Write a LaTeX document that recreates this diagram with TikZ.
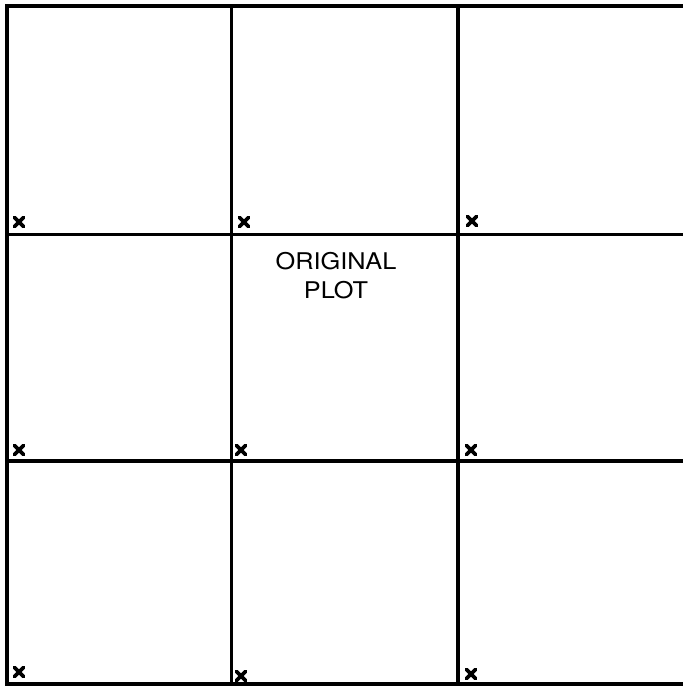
\documentclass[tikz,border=0pt]{standalone}
\usepackage{fontspec}
\setmainfont{TeX Gyre Heros}
\begin{document}
\begin{tikzpicture}[x=1pt,y=-1pt,
  gridline/.style={line width=3.2pt,line cap=rect},
  xmark/.style={line width=3.6pt,line cap=round},
  lbl/.style={font=\fontsize{23}{29}\selectfont,align=center,inner sep=0pt,xscale=1.1}]
\useasboundingbox (0,0) rectangle (682,687);
% grid corners
\coordinate (TL) at (7,6);
\coordinate (TR) at (682,6);
\coordinate (BL) at (7,684);
\coordinate (BR) at (682,684);
\draw[gridline] (TR) -- (TL) -- (BL) -- (BR);
\draw[gridline] (231.5,6) -- (231.5,684);
\draw[gridline] (458,6) -- (458,684);
\draw[gridline] (7,234.5) -- (682,234.5);
\draw[gridline] (7,461) -- (682,461);
% marks
\foreach \name/\px/\py in {m11/19/222, m12/244/222, m13/472/221,
                           m21/19/450, m22/241/450, m23/471/450,
                           m31/19/672, m32/241/676, m33/471/674}{
  \coordinate (\name) at (\px,\py);
  \draw[xmark] ([shift={(-4.5,-4.5)}]\name) -- ([shift={(4.5,4.5)}]\name);
  \draw[xmark] ([shift={(-4.5,4.5)}]\name) -- ([shift={(4.5,-4.5)}]\name);
}
\node[lbl] (title) at (336,276) {ORIGINAL\\PLOT};
\end{tikzpicture}
\end{document}
